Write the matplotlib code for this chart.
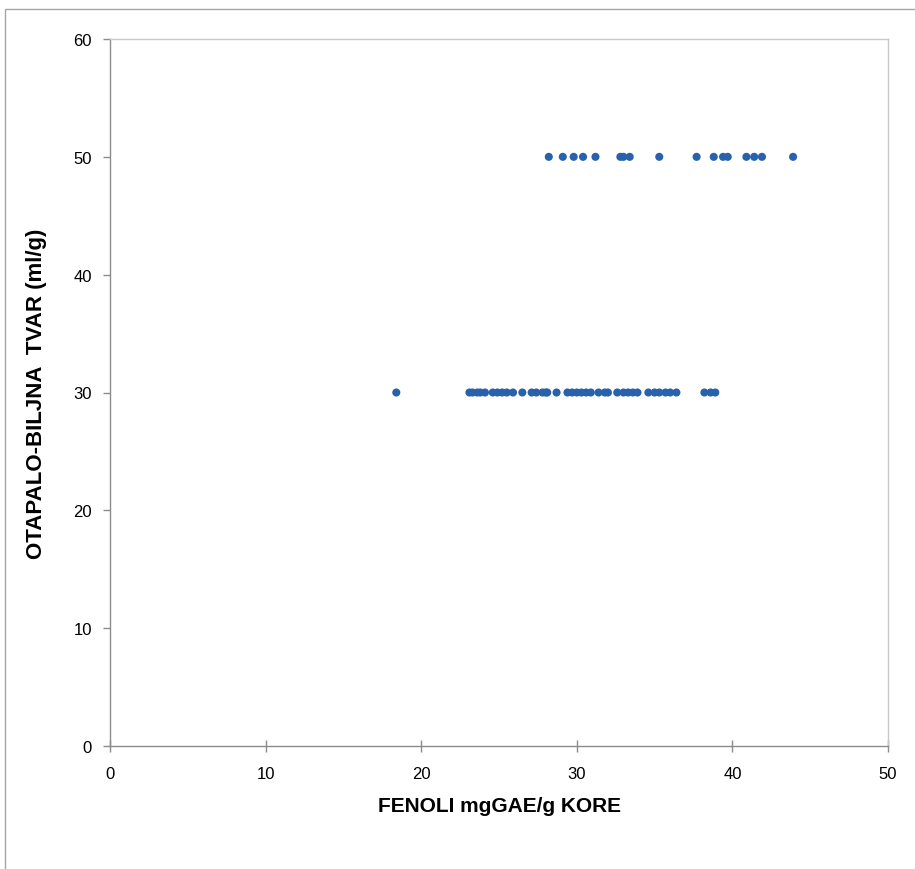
import numpy as np
import matplotlib.pyplot as plt
from matplotlib.patches import Rectangle

## Data
# points at y = 50
fenoli_50 = [28.2, 29.1, 29.8, 30.4, 31.2, 32.8, 33.0, 33.4, 35.3, 37.7,
             38.8, 39.4, 39.7, 40.9, 41.4, 41.9, 43.9]
# points at y = 30
fenoli_30 = [18.4, 23.1, 23.3, 23.6, 23.8, 24.1, 24.6, 24.9, 25.2, 25.5,
             25.9, 26.5, 27.1, 27.4, 27.8, 28.0, 28.1, 28.7, 29.4, 29.7,
             30.0, 30.3, 30.6, 30.9, 31.4, 31.8, 32.0, 32.6, 33.0, 33.3,
             33.6, 33.9, 34.6, 35.0, 35.3, 35.7, 36.0, 36.4, 38.2, 38.6, 38.9]
tvar_50 = [50] * len(fenoli_50)
tvar_30 = [30] * len(fenoli_30)

x_vals = np.array(fenoli_50 + fenoli_30)
y_vals = np.array(tvar_50 + tvar_30)

plt.rcParams['font.family'] = ['Liberation Sans', 'DejaVu Sans']

fig = plt.figure(figsize=(9.15, 8.7), dpi=100)
ax = fig.add_axes([110/915, 123/870, 778/915, 707/870])

# outer chart frame (only top and left visible in the reference)
fig.patches.append(Rectangle((5/915, -0.1), 1.2, (860/870) + 0.1, transform=fig.transFigure,
                             fill=False, edgecolor='#A6A6A6', linewidth=1.0))

ax.scatter(x_vals, y_vals, s=34, color='#2862AC', edgecolors='none', zorder=3)

ax.set_xlim(0, 50)
ax.set_ylim(0, 60)
ax.set_xticks(np.arange(0, 51, 10))
ax.set_yticks(np.arange(0, 61, 10))

for side in ['top', 'right']:
    ax.spines[side].set_color('#C8C8C8')
for side in ['left', 'bottom']:
    ax.spines[side].set_color('#8C8C8C')
for sp in ax.spines.values():
    sp.set_linewidth(1.0)

ax.tick_params(axis='x', direction='inout', length=9, width=1, color='#8C8C8C',
               labelsize=12, pad=10)
ax.tick_params(axis='y', direction='out', length=5, width=1, color='#8C8C8C',
               labelsize=12, pad=8)

ax.set_xlabel('FENOLI mgGAE/g KORE', fontsize=15, fontweight='bold', labelpad=11)
ax.set_ylabel('OTAPALO-BILJNA  TVAR (ml/g)', fontsize=16, fontweight='bold', labelpad=19)

plt.savefig('out.png', dpi=100)
